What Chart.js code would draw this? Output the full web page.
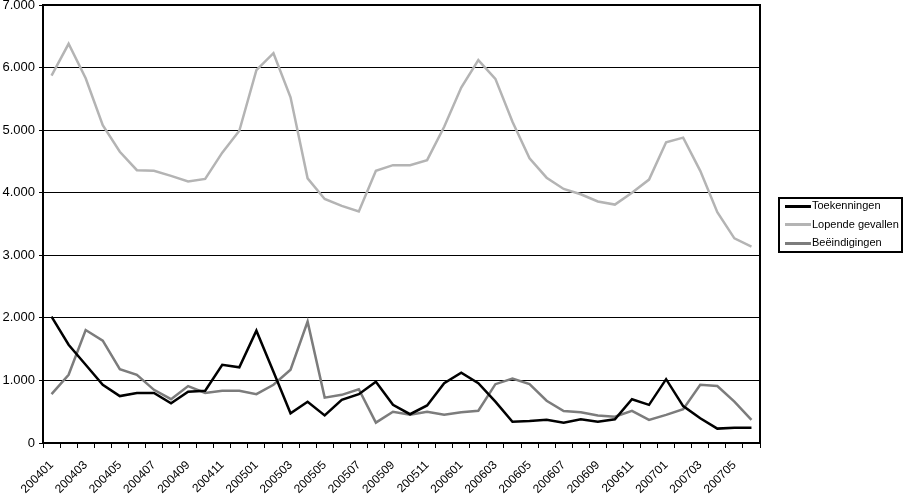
<!DOCTYPE html>
<html>
<head>
<meta charset="utf-8">
<script src="https://cdn.jsdelivr.net/npm/chart.js@4/dist/chart.umd.min.js"></script>
<style>
  body { margin: 0; background: #fff; }
  #wrap { position: relative; width: 905px; height: 496px; }
  #legend {
    position: absolute; left: 778px; top: 197px; width: 121px; height: 52px;
    border: 2px solid #000; background: #fff;
    font-family: "Liberation Sans", Arial, sans-serif; font-size: 11px; color: #000;
  }
  #legend div { position: relative; top: -3px; height: 18.6px; line-height: 18.6px; white-space: nowrap; }
  #legend span.swatch { display: inline-block; width: 26px; height: 3px; margin: 0 1px 0 5px; vertical-align: middle; }
</style>
</head>
<body>
<div id="wrap">
  <canvas id="lineChart" width="905" height="496"></canvas>
  <div id="legend"></div>
</div>
<script>
// Maandelijkse aantallen: toekenningen, lopende gevallen en beëindigingen

const maanden = [
    "200401", "200402", "200403", "200404", "200405", "200406", "200407", "200408", "200409", "200410", "200411", "200412",
    "200501", "200502", "200503", "200504", "200505", "200506", "200507", "200508", "200509", "200510", "200511", "200512",
    "200601", "200602", "200603", "200604", "200605", "200606", "200607", "200608", "200609", "200610", "200611", "200612",
    "200701", "200702", "200703", "200704", "200705", "200706"
];

const toekenningen = [
    2020, 1570, 1250, 930, 750, 800, 800, 635, 820, 835, 1250, 1210,
    1795, 1140, 475, 660, 440, 690, 780, 980, 610, 460, 600, 955,
    1125, 955, 660, 340, 350, 370, 325, 380, 340, 380, 700, 610,
    1020, 590, 395, 230, 245, 245
];

const lopendeGevallen = [
    5870, 6380, 5830, 5080, 4655, 4360, 4350, 4270, 4180, 4220, 4640, 4990,
    5960, 6230, 5525, 4230, 3900, 3790, 3700, 4350, 4440, 4440, 4520, 5055,
    5680, 6120, 5820, 5135, 4550, 4240, 4060, 3975, 3860, 3810, 4000, 4210,
    4805, 4880, 4350, 3690, 3270, 3140
];

const beeindigingen = [
    780, 1090, 1805, 1635, 1180, 1090, 850, 700, 910, 800, 835, 835,
    780, 930, 1170, 1940, 725, 770, 860, 325, 500, 450, 500, 450,
    490, 515, 940, 1030, 940, 675, 510, 490, 440, 420, 515, 370,
    450, 540, 930, 910, 660, 370
];

const reeksNamen = ["Toekenningen", "Lopende gevallen", "Beëindigingen"];
const kleuren = ["#000000", "#b4b4b4", "#7c7c7c"];

const yTicks = [0, 1000, 2000, 3000, 4000, 5000, 6000, 7000];

function duizendtal(v) {
    return String(v).replace(/\B(?=(\d{3})+(?!\d))/g, ".");
}

const series = [toekenningen, lopendeGevallen, beeindigingen];

// frame around the plot area
const kader = {
    id: 'kader',
    afterDraw(chart) {
        const a = chart.chartArea, ctx = chart.ctx;
        ctx.save();
        ctx.strokeStyle = '#000';
        ctx.lineWidth = 2;
        ctx.strokeRect(a.left, a.top, a.right - a.left, a.bottom - a.top);
        ctx.restore();
    }
};

Chart.defaults.font.family = '"Liberation Sans", Arial, sans-serif';
Chart.defaults.color = '#000';

new Chart(document.getElementById("lineChart"), {
    type: 'line',
    data: {
        labels: maanden,
        datasets: series.map((d, i) => ({
            label: reeksNamen[i],
            data: d,
            borderColor: kleuren[i],
            backgroundColor: kleuren[i],
            borderWidth: 2.5,
            pointRadius: 0,
            tension: 0,
            fill: false
        }))
    },
    options: {
        responsive: false,
        animation: false,
        layout: { padding: { top: 5, right: 145, left: 0, bottom: 0 } },
        plugins: {
            legend: { display: false },
            tooltip: { enabled: false }
        },
        scales: {
            x: {
                offset: true,
                grid: { display: true, offset: true, drawOnChartArea: false, tickLength: 5, color: '#000', tickWidth: 1 },
                border: { color: '#000', width: 2 },
                ticks: {
                    autoSkip: false,
                    minRotation: 45,
                    maxRotation: 45,
                    padding: 10,
                    font: { size: 12 },
                    callback: function (v, i) { return i % 2 === 0 ? maanden[i] : ''; }
                },
                afterFit(scale) {
                    scale.height = 53;
                    scale.paddingLeft = 0;
                    scale.paddingRight = 0;
                }
            },
            y: {
                min: 0,
                max: 7000,
                afterBuildTicks(scale) { scale.ticks = yTicks.map(v => ({ value: v })); },
                grid: { color: '#000', lineWidth: 1, tickLength: 4 },
                border: { color: '#000', width: 2 },
                ticks: {
                    padding: 4,
                    font: { size: 13 },
                    callback: v => duizendtal(v)
                },
                afterFit(scale) {
                    scale.width = 43;
                    scale.paddingTop = 0;
                    scale.paddingBottom = 0;
                }
            }
        }
    },
    plugins: [kader]
});

// legend with real text
const legend = document.getElementById('legend');
reeksNamen.forEach((naam, i) => {
    const rij = document.createElement('div');
    const sw = document.createElement('span');
    sw.className = 'swatch';
    sw.style.background = kleuren[i];
    rij.appendChild(sw);
    rij.appendChild(document.createTextNode(naam));
    legend.appendChild(rij);
});
</script>
</body>
</html>
